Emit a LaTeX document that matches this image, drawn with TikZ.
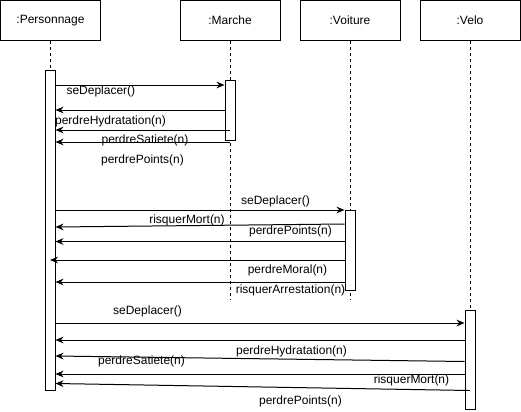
\documentclass[tikz,border=0pt]{standalone}
\usepackage{fontspec}
\setmainfont{Liberation Sans}
\usetikzlibrary{arrows.meta}

\begin{document}
\begin{tikzpicture}[x=0.75pt,y=0.75pt,yscale=-1,xscale=1,
  font=\fontsize{9}{10.8}\selectfont, line width=0.75pt,
  obj/.style={draw, minimum width=75pt, minimum height=30pt, inner sep=0pt},
  act/.style={draw, fill=white, minimum width=7.5pt, inner sep=0pt},
  life/.style={dash pattern=on 2.25pt off 2.25pt},
  msg/.style={-{Stealth[length=6pt,width=5pt]}},
  lbl/.style={inner sep=0.75pt}]
\useasboundingbox (0,0) rectangle (521,411);
% Objects
\node (hPers) [obj] at (50.5,20.5) {:Personnage};
\node (hMarche) [obj] at (230,20.5) {:Marche};
\node (hVoiture) [obj] at (350,20.5) {:Voiture};
\node (hVelo) [obj] at (470,20.5) {:Velo};
% Lifelines
\coordinate (endPers) at (50,70);
\coordinate (endMarche) at (230,300);
\coordinate (endVoiture) at (350,300);
\coordinate (endVelo) at (470,310);
\draw[life] (hPers.south -| endPers) -- (endPers);
\draw[life] (hMarche.south) -- (endMarche);
\draw[life] (hVoiture.south) -- (endVoiture);
\draw[life] (hVelo.south) -- (endVelo);
% Activations
\node (actPers) [act, minimum height=240pt] at (50,230) {};
\node (actMarche) [act, minimum height=45pt] at (230,110) {};
\node (actVoiture) [act, minimum height=60pt] at (350,250) {};
\node (actVelo) [act, minimum height=74.25pt] at (470,359.5) {};
% Marche
\draw[msg] (actPers.east |- 0,85) -- (actMarche.west |- 0,85);
\draw[msg] (actMarche.west |- 0,110) -- (actPers.east |- 0,110);
\draw[msg] (actMarche.center |- 0,130) -- (actPers.east |- 0,130);
\draw[msg] (actMarche.center |- 0,142) -- (actPers.east |- 0,142);
% Voiture
\draw[msg] (actPers.east |- 0,210) -- (actVoiture.west |- 0,210);
\draw[msg] (actVoiture.west |- 0,224) -- (actPers.east |- 0,227);
\draw[msg] (actVoiture.west |- 0,241.5) -- (actPers.east |- 0,241.5);
\draw[msg] (actVoiture.west |- 0,260) -- (actPers.center |- 0,260);
\draw[msg] (actVoiture.west |- 0,282) -- (actPers.east |- 0,282);
% Velo
\draw[msg] (actPers.east |- 0,323) -- (actVelo.west |- 0,323);
\draw[msg] (actVelo.west |- 0,340) -- (actPers.east |- 0,340);
\draw[msg] (actVelo.west |- 0,361.5) -- (actPers.east |- 0,356);
\draw[msg] (actVelo.west |- 0,374) -- (actPers.east |- 0,374);
\draw[msg] (actVelo.center |- 0,390.5) -- (actPers.east |- 0,383.5);
% Text Node
\draw (65,91.5) node (tDep1) [anchor=west] [lbl] {seDeplacer()};
% Text Node
\draw (110.5,121) node (tHyd1) [lbl] {perdreHydratation(n)};
% Text Node
\draw (145,140.5) node (tSat1) [lbl] {perdreSatiete(n)};
% Text Node
\draw (142.5,160) node (tPts1) [lbl] {perdrePoints(n)};
% Text Node
\draw (275.5,201.5) node (tDep2) [lbl] {seDeplacer()};
% Text Node
\draw (187,220.5) node (tMort2) [lbl] {risquerMort(n)};
% Text Node
\draw (290.5,231.5) node (tPts2) [lbl] {perdrePoints(n)};
% Text Node
\draw (287.5,270.5) node (tMor2) [lbl] {perdreMoral(n)};
% Text Node
\draw (290.5,290) node (tArr2) [lbl] {risquerArrestation(n)};
% Text Node
\draw (147.5,311) node (tDep3) [lbl] {seDeplacer()};
% Text Node
\draw (291.5,351) node (tHyd3) [lbl] {perdreHydratation(n)};
% Text Node
\draw (141.5,361) node (tSat3) [lbl] {perdreSatiete(n)};
% Text Node
\draw (411.5,380.5) node (tMort3) [lbl] {risquerMort(n)};
% Text Node
\draw (300.5,401) node (tPts3) [lbl] {perdrePoints(n)};
\end{tikzpicture}
\end{document}
